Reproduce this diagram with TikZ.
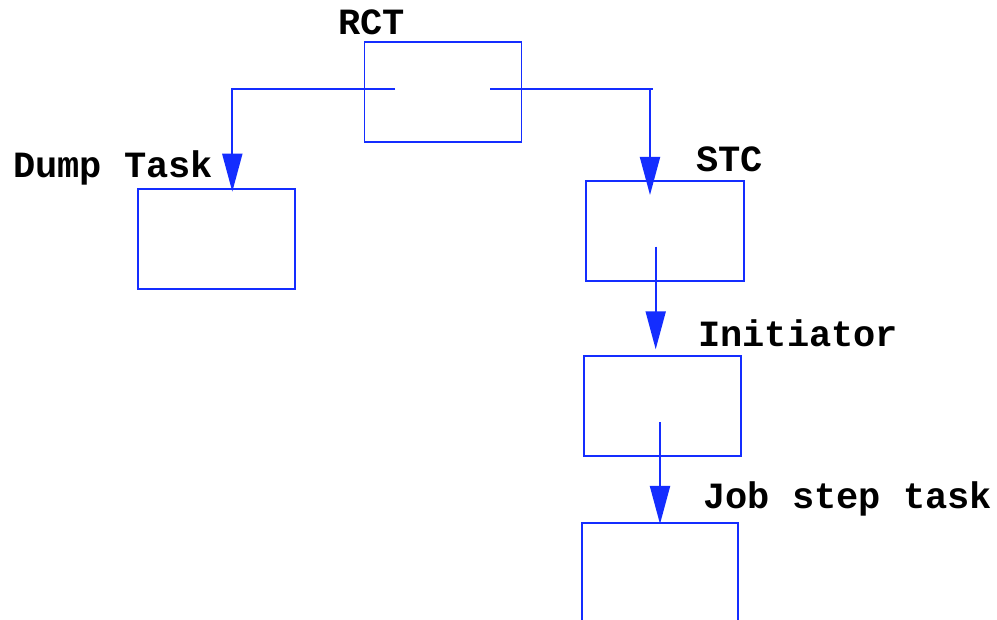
\documentclass[tikz,border=0pt]{standalone}
\usepackage{fontspec}
\setmainfont{Liberation Mono}
\usetikzlibrary{arrows.meta}
\definecolor{lineblue}{RGB}{20,45,255}
\begin{document}
\begin{tikzpicture}[x=1pt,y=-1pt,
  box/.style={draw=lineblue,line width=1.9pt,rectangle,inner sep=0pt,anchor=north west},
  lbl/.style={anchor=base west,inner sep=0pt,font=\fontsize{37}{42}\selectfont\bfseries},
  conn/.style={draw=lineblue,line width=1.9pt,-{Triangle[length=38pt,width=20pt]}}]
\clip (0,0) rectangle (997,620);
\fill[white] (0,0) rectangle (997,620);
% boxes
\node[box,minimum width=157pt,minimum height=100pt] (rct) at (363.5,40.8) {};
\node[box,minimum width=157pt,minimum height=100pt] (dump) at (136.8,187.8) {};
\node[box,minimum width=157.5pt,minimum height=100pt] (stc) at (585.2,180) {};
\node[box,minimum width=157.3pt,minimum height=100pt] (init) at (582.8,355) {};
\node[box,minimum width=156pt,minimum height=140pt] (job) at (580.8,522.3) {};
% labels
\node[lbl] (lrct) at (338,35) {RCT};
\node[lbl] (ldump) at (13,178) {Dump Task};
\node[lbl] (lstc) at (696,171.5) {STC};
\node[lbl] (linit) at (698,346.5) {Initiator};
\node[lbl] (ljob) at (703,508.5) {Job step task};
% connector start points inside boxes
\coordinate (sl) at (395,89.3);
\coordinate (sr) at (490,89.3);
\coordinate (cr) at (652.7,89.3);
\coordinate (ss) at (655.7,246.7);
\coordinate (si) at (660,422.3);
% connectors
\draw[conn] (sl) -| (232.3,191.7);
\draw[draw=lineblue,line width=1.9pt] (sr) -- (cr);
\draw[conn] (650,89.3) -- (650,195);
\draw[conn] (ss) -- (655.7,349.3);
\draw[conn] (si) -- (660,524);
\end{tikzpicture}
\end{document}
